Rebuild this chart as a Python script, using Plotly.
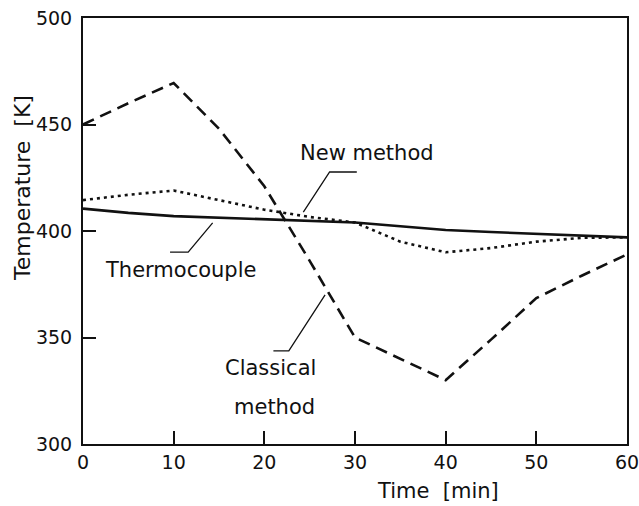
import plotly.graph_objects as go

# ---- data ----
time_min = [0, 5, 10, 15, 20, 25, 30, 35, 40, 45, 50, 55, 60]
thermocouple = [410.5, 408.5, 407.0, 406.2, 405.6, 404.8, 404.0, 402.2, 400.5, 399.5, 398.6, 397.8, 397.0]
new_method = [414.5, 417.0, 419.0, 414.6, 410.0, 406.6, 404.0, 395.0, 390.0, 392.0, 395.0, 396.8, 397.0]
classical = [450.0, 460.0, 469.5, 448.0, 421.0, 386.0, 350.0, 340.0, 330.0, 349.0, 368.5, 379.0, 389.0]

x_ticks = [0, 10, 20, 30, 40, 50, 60]
y_ticks = [300, 350, 400, 450, 500]

# label text and leader lines (data coordinates)
label_new = "New method"
label_thermo = "Thermocouple"
label_class_1 = "Classical"
label_class_2 = "method"
leader_new_x = [24.3, 27.2, 30.2]
leader_new_y = [408.9, 427.7, 427.7]
leader_thermo_x = [9.6, 11.6, 14.3]
leader_thermo_y = [390.1, 390.1, 403.8]
leader_class_x = [21.0, 22.7, 26.7]
leader_class_y = [343.7, 343.7, 370.0]

FONT = "DejaVu Sans"
INK = "#111111"

fig = go.Figure()
fig.add_trace(go.Scatter(x=time_min, y=thermocouple, mode="lines",
                         line=dict(color=INK, width=2.6), showlegend=False))
fig.add_trace(go.Scatter(x=time_min, y=new_method, mode="lines",
                         line=dict(color=INK, width=2.6, dash="3px,4px"), showlegend=False))
fig.add_trace(go.Scatter(x=time_min, y=classical, mode="lines",
                         line=dict(color=INK, width=2.6, dash="12px,7px"), showlegend=False))

for lx, ly in [(leader_new_x, leader_new_y), (leader_thermo_x, leader_thermo_y),
               (leader_class_x, leader_class_y)]:
    fig.add_trace(go.Scatter(x=lx, y=ly, mode="lines", line=dict(color=INK, width=1.3),
                             showlegend=False, hoverinfo="skip"))

tf = dict(family=FONT, size=21, color=INK)
tick_font = dict(family=FONT, size=19, color=INK)
fig.add_annotation(x=31.3, y=436.6, text=label_new, showarrow=False, font=tf)
fig.add_annotation(x=10.8, y=381.7, text=label_thermo, showarrow=False, font=tf)
fig.add_annotation(x=20.7, y=335.7, text=label_class_1, showarrow=False, font=tf)
fig.add_annotation(x=21.1, y=317.4, text=label_class_2, showarrow=False, font=tf)

# axis titles placed as in the original (off-center)
fig.add_annotation(xref="paper", yref="paper", x=(438 - 83) / 544, y=-(491 - 444) / 426,
                   text="Time  [min]", showarrow=False, font=tf,
                   xanchor="center", yanchor="middle")
fig.add_annotation(xref="paper", yref="paper", x=-(83 - 22) / 544, y=(444 - 188) / 426,
                   text="Temperature  [K]", textangle=-90, showarrow=False,
                   font=dict(family=FONT, size=22, color=INK),
                   xanchor="center", yanchor="middle")

axis_common = dict(showgrid=False, zeroline=False, showline=True, linecolor=INK, linewidth=2,
                   mirror=True, ticks="inside", ticklen=13, tickwidth=1.5, tickcolor=INK,
                   tickfont=tick_font, automargin=False, ticklabeloverflow="allow")
fig.update_xaxes(range=[0, 60], tickvals=x_ticks, ticktext=[str(v) for v in x_ticks],
                 **axis_common)
fig.update_yaxes(range=[300, 500], tickvals=y_ticks, ticktext=[str(v) for v in y_ticks],
                 ticklabelstandoff=5, **axis_common)

fig.update_layout(width=639, height=506, margin=dict(l=83, r=12, t=18, b=62),
                  paper_bgcolor="white", plot_bgcolor="white", font=tf)

# remove the default 8px page margin so the figure fills the window exactly
fig.write_html("out.html", config={"displayModeBar": False},
               post_script="document.body.style.margin='0';")
